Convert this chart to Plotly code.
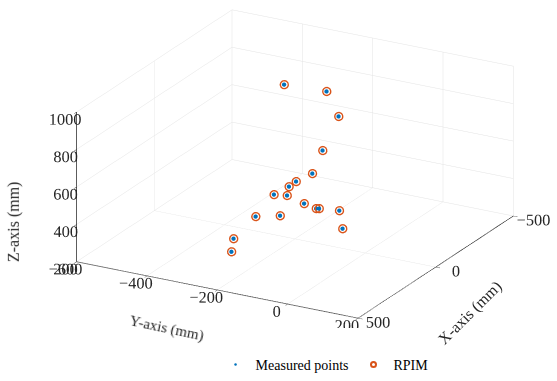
import plotly.graph_objects as go

# Data (mm)
x_vals = [-88, -171, -142, -73, -25, -11, 10, 50, -5, 30, 21, 31, 30, 102, 101, 34, 231, 276]
y_vals = [-270, -186, -139, -154, -162, -202, -213, -238, -225, -161, -131, -118, -61, -267, -198, -50, -273, -259]
z_vals = [950, 900, 800, 650, 550, 500, 480, 450, 420, 420, 400, 410, 420, 350, 380, 330, 300, 260]

x_ticks = [-500, 0, 500]
y_ticks = [-600, -400, -200, 0, 200]
z_ticks = [200, 400, 600, 800, 1000]

axis_titles = ["X-axis (mm)", "Y-axis (mm)", "Z-axis (mm)"]

FONT = "Liberation Serif"
BLUE = "#0072BD"
ORANGE = "#D95319"
TXT = "#262626"

fig = go.Figure()
fig.add_trace(go.Scatter3d(
    x=x_vals, y=y_vals, z=z_vals, mode="markers", name="Measured points",
    marker=dict(size=2.5, color=BLUE, symbol="circle")))
fig.add_trace(go.Scatter3d(
    x=x_vals, y=y_vals, z=z_vals, mode="markers", name="RPIM",
    marker=dict(size=5, color=ORANGE, symbol="circle-open", line=dict(width=2, color=ORANGE))))

axis_common = dict(showbackground=False, gridcolor="#e3e3e3", gridwidth=1,
                   showline=True, linecolor=TXT, linewidth=1.5,
                   ticks="inside", tickcolor=TXT, ticklen=5, tickangle=0,
                   zeroline=False, showspikes=False,
                   tickfont=dict(family=FONT, size=14, color=TXT),
                   title=dict(text=""))

d = 1.8
k = 1.96
fig.update_layout(
    width=557, height=381,
    margin=dict(l=0, r=0, t=0, b=0),
    paper_bgcolor="white",
    font=dict(family=FONT, size=14, color=TXT),
    scene=dict(
        xaxis=dict(axis_common, range=[-500, 500], tickvals=x_ticks),
        yaxis=dict(axis_common, range=[-600, 200], tickvals=y_ticks),
        zaxis=dict(axis_common, range=[200, 1000], tickvals=z_ticks),
        aspectmode="manual", aspectratio=dict(x=1 * k, y=1 * k, z=0.5 * k),
        camera=dict(projection=dict(type="orthographic"),
                    eye=dict(x=0.8157 * d, y=0.4503 * d, z=0.3633 * d),
                    center=dict(x=0, y=0, z=0), up=dict(x=0, y=0, z=1)),
        domain=dict(x=[0.06, 1], y=[0.14, 1]),
    ),
    legend=dict(orientation="h", x=0.387, xanchor="left", y=0.0, yanchor="bottom",
                font=dict(family=FONT, size=14, color="black")),
    annotations=[
        dict(text=axis_titles[2], x=0.0251, y=0.417, xref="paper", yref="paper",
             xanchor="center", yanchor="middle",
             showarrow=False, textangle=-90, font=dict(family=FONT, size=16, color=TXT)),
        dict(text=axis_titles[1], x=0.2998, y=0.139, xref="paper", yref="paper",
             xanchor="center", yanchor="middle",
             showarrow=False, textangle=12, font=dict(family=FONT, size=15, color=TXT)),
        dict(text=axis_titles[0], x=0.8438, y=0.1785, xref="paper", yref="paper",
             xanchor="center", yanchor="middle",
             showarrow=False, textangle=-45, font=dict(family=FONT, size=16, color=TXT)),
    ],
)

fig.write_html("out.html")
